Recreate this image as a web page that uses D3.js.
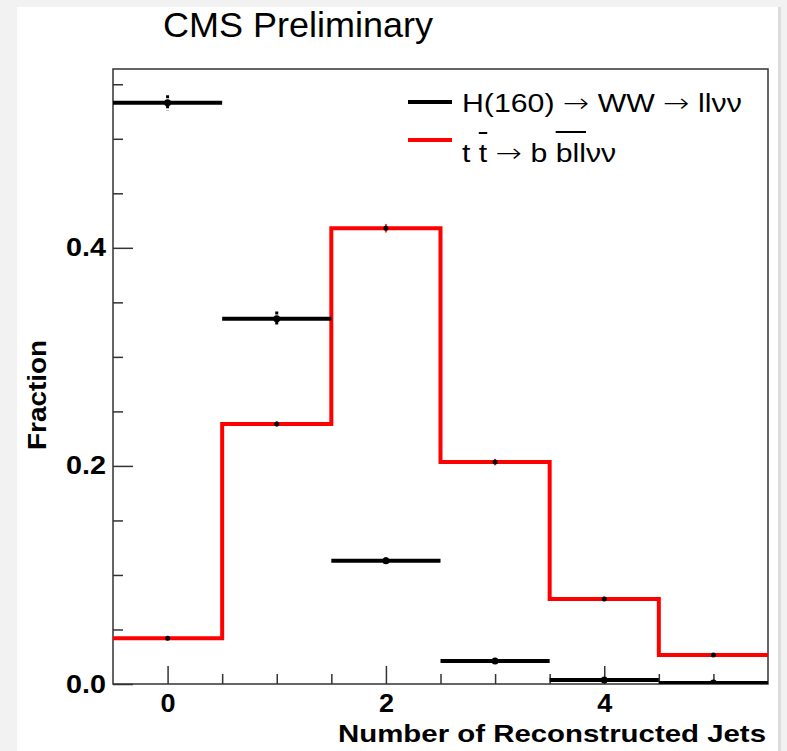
<!DOCTYPE html>
<html><head><meta charset="utf-8">
<script src="https://cdn.jsdelivr.net/npm/d3@7"></script>
<style>html,body{margin:0;padding:0;background:#f2f2f2;} svg{display:block}</style>
</head><body>
<svg id="c" width="787" height="751"></svg>
<script>
// ---- data ----
const bins = [0, 1, 2, 3, 4, 5];
const higgs = [0.533, 0.335, 0.113, 0.021, 0.0037, 0.001];
const higgsErr = [0.007, 0.0065, 0.003, 0.0015, 0.0008, 0.0004];
const ttbar = [0.042, 0.2385, 0.418, 0.2035, 0.078, 0.0266];
const ttbarErr = [0.001, 0.0015, 0.003, 0.002, 0.0012, 0.0008];
const xMajorTicks = [0, 2, 4];
const xMinorTicks = [0.5, 1, 1.5, 2.5, 3, 3.5, 4.5, 5];
const yMajorTicks = [0, 0.2, 0.4];
const yMinorTicks = [0.05, 0.1, 0.15, 0.25, 0.3, 0.35, 0.45, 0.5, 0.55];
const titleText = "CMS Preliminary";
const xLabel = "Number of Reconstructed Jets";
const yLabel = "Fraction";
// legend pieces: [text, isArrow]
const legendHParts = [["H(160) ", false], ["\u2192", true], [" WW ", false], ["\u2192", true], [" ll\u03bd\u03bd", false]];
const legendTParts = [["t t ", false], ["\u2192", true], [" b bll\u03bd\u03bd", false]];

// ---- layout ----
const svg = d3.select("#c");
const L = 113, R = 768, T = 69, B = 684;
const x = d3.scaleLinear().domain([-0.5, 5.5]).range([L, R]);
const y = d3.scaleLinear().domain([0, 0.564]).range([B, T]);
const font = "'Liberation Sans', Arial, Helvetica, sans-serif";
const arrowFont = "'DejaVu Sans', sans-serif";

// panel
svg.append("rect").attr("x", 17).attr("y", 7).attr("width", 761).attr("height", 760).attr("fill", "#fff");
svg.append("rect").attr("x", 778).attr("y", 7).attr("width", 3).attr("height", 760).attr("fill", "#dcdcdc");

svg.append("defs").append("clipPath").attr("id", "clip")
  .append("rect").attr("x", L).attr("y", T - 2).attr("width", R - L).attr("height", B - T + 2);

// axes
const axColor = "#333";
function styleAxis(g) {
  g.select(".domain").remove();
  g.selectAll("line").attr("stroke", axColor).attr("stroke-width", 1.5);
  g.selectAll("text").attr("fill", "#000").attr("font-family", font).attr("font-weight", "bold").attr("font-size", 25);
}
svg.append("g").attr("transform", `translate(0,${B})`)
  .call(d3.axisBottom(x).tickValues(xMinorTicks).tickSizeInner(-10).tickSizeOuter(0).tickFormat(""))
  .call(styleAxis);
const gx = svg.append("g").attr("transform", `translate(0,${B})`)
  .call(d3.axisBottom(x).tickValues(xMajorTicks).tickSizeInner(-18).tickSizeOuter(0).tickPadding(10).tickFormat(d3.format("d")))
  .call(styleAxis);
gx.selectAll("text").attr("textLength", 15).attr("lengthAdjust", "spacingAndGlyphs");

svg.append("g").attr("transform", `translate(${L},0)`)
  .call(d3.axisLeft(y).tickValues(yMinorTicks).tickSizeInner(-10).tickSizeOuter(0).tickFormat(""))
  .call(styleAxis);
const gy = svg.append("g").attr("transform", `translate(${L},0)`)
  .call(d3.axisLeft(y).tickValues(yMajorTicks).tickSizeInner(-20).tickSizeOuter(0).tickPadding(7).tickFormat(d3.format(".1f")))
  .call(styleAxis);
gy.selectAll("text").attr("textLength", 40).attr("lengthAdjust", "spacingAndGlyphs");

// frame
svg.append("rect").attr("x", L).attr("y", T).attr("width", R - L).attr("height", B - T)
  .attr("fill", "none").attr("stroke", axColor).attr("stroke-width", 1.5);

const plot = svg.append("g").attr("clip-path", "url(#clip)");

// ttbar step histogram
const stepPts = bins.map((b, i) => [b - 0.5, ttbar[i]]).concat([[bins[bins.length - 1] + 0.5, ttbar[ttbar.length - 1]]]);
plot.append("path")
  .attr("d", d3.line().x(d => x(d[0])).y(d => y(d[1])).curve(d3.curveStepAfter)(stepPts))
  .attr("fill", "none").attr("stroke", "#ff0000").attr("stroke-width", 4);
plot.selectAll(".terr").data(bins).join("line")
  .attr("x1", d => x(d)).attr("x2", d => x(d))
  .attr("y1", (d, i) => y(ttbar[i] + ttbarErr[i]) - 1).attr("y2", (d, i) => y(ttbar[i] - ttbarErr[i]) + 1)
  .attr("stroke", "#ff3030").attr("stroke-width", 2);
plot.selectAll(".tdot").data(bins).join("circle")
  .attr("cx", d => x(d)).attr("cy", (d, i) => y(ttbar[i])).attr("r", 2.5).attr("fill", "#000");

// Higgs points with bin-width bars
plot.selectAll(".hbar").data(bins).join("line")
  .attr("x1", d => x(d - 0.5)).attr("x2", d => x(d + 0.5))
  .attr("y1", (d, i) => y(higgs[i])).attr("y2", (d, i) => y(higgs[i]))
  .attr("stroke", "#000").attr("stroke-width", 4);
plot.selectAll(".herr").data(bins).join("line")
  .attr("x1", d => x(d)).attr("x2", d => x(d))
  .attr("y1", (d, i) => y(higgs[i] + higgsErr[i])).attr("y2", (d, i) => y(higgs[i] - higgsErr[i]))
  .attr("stroke", "#000").attr("stroke-width", 3).attr("stroke-dasharray", "3,2");
plot.selectAll(".hdot").data(bins).join("circle")
  .attr("cx", d => x(d)).attr("cy", (d, i) => y(higgs[i])).attr("r", 3.5).attr("fill", "#000");

// title and axis labels
svg.append("text").attr("x", 163).attr("y", 37).text(titleText)
  .attr("font-family", font).attr("font-size", 35).attr("fill", "#000")
  .attr("textLength", 270).attr("lengthAdjust", "spacingAndGlyphs");
svg.append("text").attr("x", 766).attr("y", 742).attr("text-anchor", "end").text(xLabel)
  .attr("font-family", font).attr("font-weight", "bold").attr("font-size", 24).attr("fill", "#000")
  .attr("textLength", 428).attr("lengthAdjust", "spacingAndGlyphs");
svg.append("text").attr("transform", "translate(46,395) rotate(-90)").attr("text-anchor", "middle").text(yLabel)
  .attr("font-family", font).attr("font-weight", "bold").attr("font-size", 25).attr("fill", "#000")
  .attr("textLength", 110).attr("lengthAdjust", "spacingAndGlyphs");

// legend
svg.append("line").attr("x1", 408).attr("x2", 452).attr("y1", 102).attr("y2", 102).attr("stroke", "#000").attr("stroke-width", 4);
svg.append("line").attr("x1", 408).attr("x2", 452).attr("y1", 140).attr("y2", 140).attr("stroke", "#ff0000").attr("stroke-width", 4);
const lg = svg.append("g");
function legendText(parts, yy) {
  const t = lg.append("text").attr("x", 0).attr("y", yy)
    .attr("font-family", font).attr("font-size", 25).attr("fill", "#000").attr("xml:space", "preserve")
    .style("white-space", "pre");
  parts.forEach(([s, arrow]) => {
    const sp = t.append("tspan").text(s);
    if (arrow) sp.attr("font-family", arrowFont).attr("font-size", 26).attr("font-weight", 300);
  });
  return t;
}
const t1 = legendText(legendHParts, 0);
const t2 = legendText(legendTParts, 50);
const w1 = t1.node().getComputedTextLength();
const sx = 280 / w1;
lg.attr("transform", `translate(462,112) scale(${sx},1)`);
const n2 = t2.node();
function bar(i0, i1, yy) {
  const a = n2.getStartPositionOfChar(i0).x, b = n2.getEndPositionOfChar(i1).x;
  lg.append("line").attr("x1", a).attr("x2", b).attr("y1", yy).attr("y2", yy)
    .attr("stroke", "#000").attr("stroke-width", 2);
}
bar(2, 2, 21);
bar(8, 10, 20);
</script>
</body></html>
